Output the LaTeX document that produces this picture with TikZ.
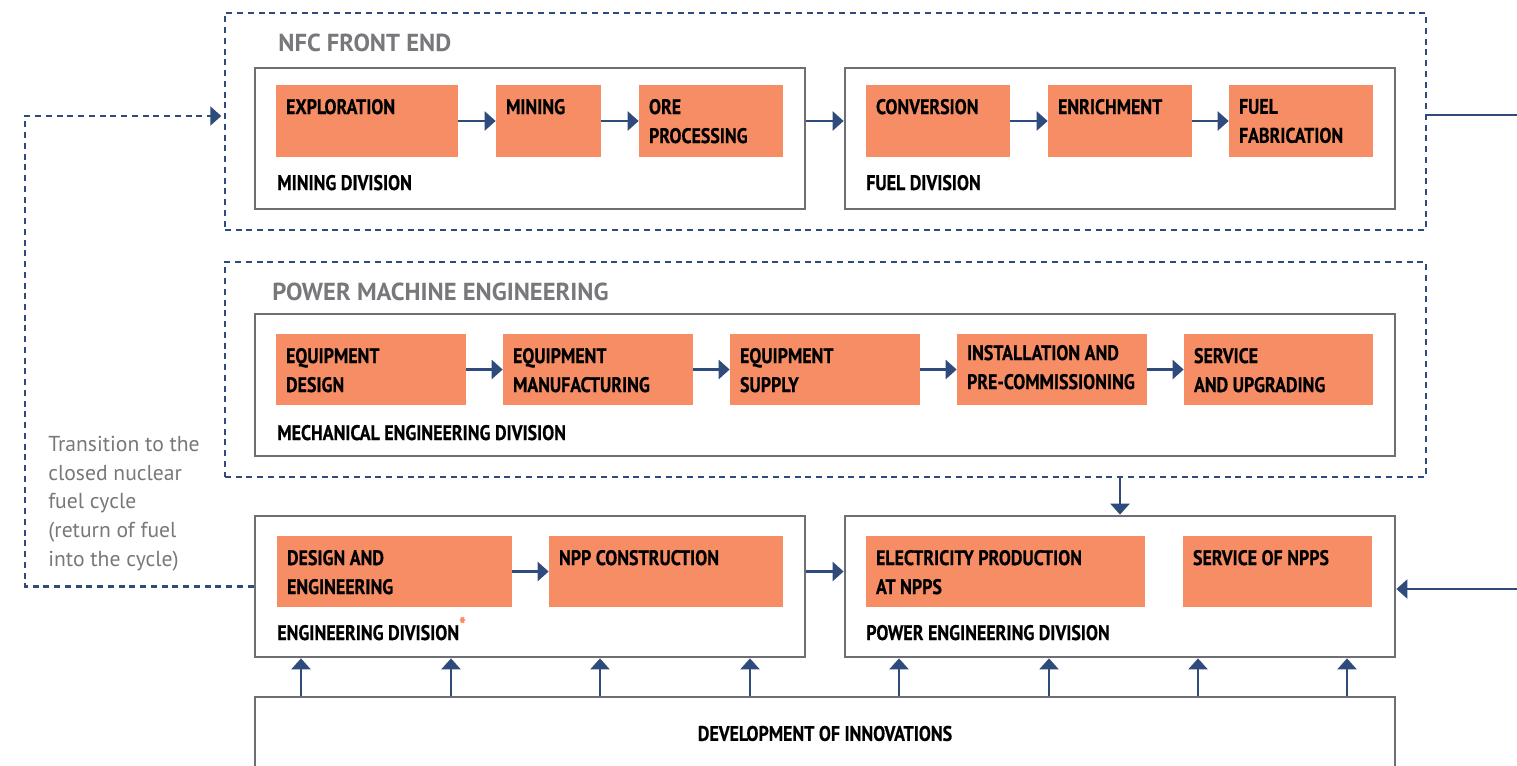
\documentclass[tikz,border=0pt]{standalone}
\usepackage{fontspec}
\setmainfont{PT Sans}
\newfontfamily\cond[FakeStretch=0.85,FakeBold=0.5]{PT Sans}
\usetikzlibrary{arrows.meta,fit,calc}
\definecolor{orng}{HTML}{F68D64}
\definecolor{navy}{HTML}{2F4B7C}
\definecolor{boxgray}{HTML}{6E6F72}
\definecolor{txtgray}{HTML}{77787B}

\begin{document}
\begin{tikzpicture}[x=0.02cm,y=-0.02cm,
  task/.style={fill=orng,inner sep=0pt},
  tlab/.style={anchor=north west,align=left,inner xsep=0.2cm,inner ysep=0.28cm,font=\cond\bfseries\fontsize{12}{16.5}\selectfont},
  div/.style={draw=boxgray,line width=0.055cm,inner sep=0pt},
  divlab/.style={anchor=base west,inner sep=0pt,font=\cond\bfseries\fontsize{12}{16.5}\selectfont},
  group/.style={draw=navy,line width=0.05cm,dash pattern=on 0.12cm off 0.095cm,inner sep=0pt},
  grouplab/.style={anchor=base west,inner sep=0pt,text=txtgray,font=\bfseries\fontsize{14}{16}\selectfont},
  arr/.style={draw=navy,line width=0.05cm,-{Triangle[length=0.22cm,width=0.38cm]}},
  back/.style={group,-{Triangle[length=0.22cm,width=0.38cm]},shorten >=0.05cm}]
\useasboundingbox (0,0) rectangle (1517,765);
\node[group,fit={(225,13) (1426,230)}] (nfc) {};
\node[grouplab] (nfclab) at (278,51) {NFC FRONT END};
\node[div,fit={(255,68) (805,209)}] (mindiv) {};
\node[divlab] (minlab) at (277,190) {MINING DIVISION};
\node[task,fit={(276,85) (458,157)},label={[tlab]north west:EXPLORATION}] (expl) {};
\node[task,fit={(496,85) (601,157)},label={[tlab]north west:MINING}] (mine) {};
\node[task,fit={(639,85) (783,157)},label={[tlab]north west:ORE\\PROCESSING}] (ore) {};
\node[div,fit={(845,68) (1395,209)}] (fueldiv) {};
\node[divlab] (fuellab) at (866,190) {FUEL DIVISION};
\node[task,fit={(866,85) (1010,157)},label={[tlab]north west:CONVERSION}] (conv) {};
\node[task,fit={(1048,85) (1192,157)},label={[tlab]north west:ENRICHMENT}] (enr) {};
\node[task,fit={(1229,85) (1373,157)},label={[tlab]north west:FUEL\\FABRICATION}] (fab) {};
\node[group,fit={(225,262) (1426,477)}] (pme) {};
\node[grouplab] (pmelab) at (272,300) {POWER MACHINE ENGINEERING};
\node[div,fit={(255,314) (1395,456)}] (mecdiv) {};
\node[divlab] (meclab) at (277,440) {MECHANICAL ENGINEERING DIVISION};
\node[task,fit={(276,334) (466,405)},label={[tlab]north west:EQUIPMENT\\DESIGN}] (eqdes) {};
\node[task,fit={(503,334) (693,405)},label={[tlab]north west:EQUIPMENT\\MANUFACTURING}] (eqman) {};
\node[task,fit={(730,334) (920,405)},label={[tlab]north west:EQUIPMENT\\SUPPLY}] (eqsup) {};
\node[task,fit={(957,334) (1147,405)},label={[tlab,inner ysep=0.22cm]north west:INSTALLATION AND\\PRE-COMMISSIONING}] (inst) {};
\node[task,fit={(1184,334) (1373,405)},label={[tlab]north west:SERVICE\\AND UPGRADING}] (upgr) {};
\node[div,fit={(255,516) (805,657)}] (engdiv) {};
\node[divlab] (englab) at (277,640) {ENGINEERING DIVISION\textsuperscript{\color{orng}\large*}};
\node[task,fit={(277,536) (512,607)},label={[tlab]north west:DESIGN AND\\ENGINEERING}] (design) {};
\node[task,fit={(549,536) (783,607)},label={[tlab]north west:NPP CONSTRUCTION}] (npp) {};
\node[div,fit={(845,516) (1395,657)}] (powdiv) {};
\node[divlab] (powlab) at (866,640) {POWER ENGINEERING DIVISION};
\node[task,fit={(866,536) (1145,607)},label={[tlab]north west:ELECTRICITY PRODUCTION\\AT NPPS}] (elec) {};
\node[task,fit={(1183,536) (1372,607)},label={[tlab]north west:SERVICE OF NPPS}] (svc) {};
\node[div,fit={(255,697) (1395,785)},font=\cond\bfseries\fontsize{12}{16.5}\selectfont] (innov) {DEVELOPMENT OF INNOVATIONS};
\node[anchor=north west,align=left,inner sep=0pt,text=txtgray,font=\fontsize{12.3}{16.3}\selectfont] (note) at (48,436) {Transition to the\\closed nuclear\\fuel cycle\\(return of fuel\\into the cycle)};
\coordinate (nfcout) at (1517,115);
\coordinate (powin) at (1517,589);
\coordinate (turn) at (25,116);
\draw[arr] (expl) -- (mine);
\draw[arr] (mine) -- (ore);
\draw[arr] (mindiv.east |- expl) -- (fueldiv.west |- expl);
\draw[arr] (conv) -- (enr);
\draw[arr] (enr) -- (fab);
\draw[navy,line width=0.05cm] (nfc.east |- nfcout) -- (nfcout);
\draw[arr] (eqdes) -- (eqman);
\draw[arr] (eqman) -- (eqsup);
\draw[arr] (eqsup) -- (inst);
\draw[arr] (inst) -- (upgr);
\draw[arr] (pme.south -| powdiv.north) -- (powdiv.north);
\draw[arr] (design) -- (npp);
\draw[arr] (engdiv.east |- design) -- (powdiv.west |- design);
\draw[arr] (powin) -- (powin -| powdiv.east);
\draw[back] (engdiv.west) -| (turn) -- (turn -| nfc.west);
\foreach \x/\d in {301/engdiv,451/engdiv,600/engdiv,750/engdiv,899/powdiv,1049/powdiv,1198/powdiv,1347/powdiv}
  \draw[arr] (innov.north -| \x,0) -- (\d.south -| \x,0);
\end{tikzpicture}
\end{document}
